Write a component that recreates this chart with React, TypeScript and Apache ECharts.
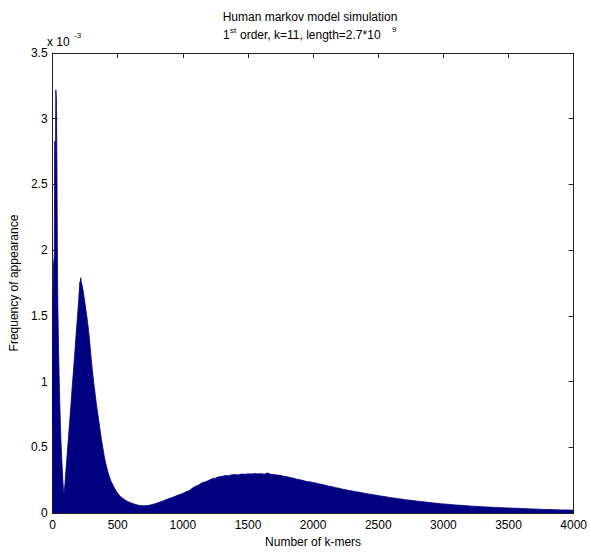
import React, { useEffect, useRef } from "react";
import * as echarts from "echarts";

// Number of k-mers (x) and frequency of appearance (in units of 1e-3)
const kmerCounts = [
  0, 3, 8, 13, 17, 21, 25, 29, 33, 37, 40, 45, 50, 55, 60, 65, 70, 75, 80, 85, 90, 95,
  100, 110, 120, 130, 140, 150, 160, 170, 180, 190, 200, 205, 210, 213, 216, 220, 225,
  235, 245, 255, 265, 275, 285, 295, 305, 315, 325, 335, 345, 355, 365, 375, 385, 395,
  405, 415, 425, 435, 445, 460, 475, 490, 505, 520, 540, 560, 580, 600, 625, 650, 675,
  700, 725, 750, 775, 800, 825, 850, 875, 900, 925, 950, 975, 1000, 1025, 1050, 1075,
  1100, 1125, 1150, 1175, 1200, 1225, 1250, 1275, 1300, 1325, 1350, 1375, 1400, 1425,
  1450, 1475, 1500, 1525, 1550, 1575, 1600, 1625, 1650, 1675, 1700, 1725, 1750, 1775,
  1800, 1825, 1850, 1875, 1900, 1925, 1950, 1975, 2000, 2025, 2050, 2075, 2100, 2125,
  2150, 2175, 2200, 2225, 2250, 2275, 2300, 2325, 2350, 2375, 2400, 2425, 2450, 2475,
  2500, 2525, 2550, 2575, 2600, 2625, 2650, 2675, 2700, 2725, 2750, 2775, 2800, 2825,
  2850, 2875, 2900, 2925, 2950, 2975, 3000, 3025, 3050, 3075, 3100, 3125, 3150, 3175,
  3200, 3225, 3250, 3275, 3300, 3325, 3350, 3375, 3400, 3425, 3450, 3475, 3500, 3525,
  3550, 3575, 3600, 3625, 3650, 3675, 3700, 3725, 3750, 3775, 3800, 3825, 3850, 3875,
  3900, 3925, 3950, 3975, 4000,
];

const frequency = [
  0.68, 1.63, 1.9, 1.95, 2.83, 2.5, 3.22, 3.15, 2.7, 1.95, 1.6, 1.3, 1.05, 0.85, 0.68, 0.53, 0.42, 0.32, 0.23, 0.15, 0.17, 0.22,
  0.29, 0.42, 0.55, 0.68, 0.81, 0.95, 1.08, 1.21, 1.35, 1.48, 1.61, 1.7, 1.76, 1.74, 1.79, 1.76, 1.74,
  1.69, 1.62, 1.55, 1.48, 1.4, 1.3, 1.19, 1.09, 1.0, 0.92, 0.84, 0.77, 0.7, 0.63, 0.56, 0.5, 0.44,
  0.39, 0.35, 0.31, 0.28, 0.25, 0.22, 0.19, 0.165, 0.145, 0.127, 0.112, 0.098, 0.087, 0.078, 0.069, 0.062, 0.057,
  0.055, 0.057, 0.061, 0.068, 0.075, 0.084, 0.093, 0.104, 0.113, 0.121, 0.132, 0.141, 0.15, 0.162, 0.172, 0.19,
  0.205, 0.215, 0.232, 0.238, 0.25, 0.262, 0.266, 0.276, 0.279, 0.286, 0.284, 0.291, 0.293, 0.29,
  0.297, 0.295, 0.299, 0.297, 0.301, 0.298, 0.3, 0.296, 0.305, 0.295, 0.293, 0.289, 0.287, 0.28,
  0.277, 0.27, 0.266, 0.258, 0.253, 0.248, 0.24, 0.238, 0.232, 0.228, 0.221, 0.217, 0.21, 0.204,
  0.2, 0.193, 0.189, 0.182, 0.178, 0.172, 0.168, 0.163, 0.16, 0.154, 0.15, 0.146, 0.142, 0.137,
  0.133, 0.129, 0.126, 0.121, 0.117, 0.114, 0.11, 0.107, 0.103, 0.1, 0.097, 0.094, 0.091, 0.088,
  0.086, 0.082, 0.08, 0.077, 0.075, 0.072, 0.07, 0.068, 0.066, 0.063, 0.061, 0.06, 0.058, 0.056,
  0.054, 0.053, 0.051, 0.05, 0.048, 0.047, 0.046, 0.044, 0.043, 0.042, 0.041, 0.04, 0.039, 0.038,
  0.037, 0.036, 0.035, 0.034, 0.033, 0.032, 0.031, 0.03, 0.029, 0.028, 0.027, 0.027, 0.026, 0.025,
  0.024, 0.024, 0.023, 0.023, 0.022,
];

const titleLine1 = "Human markov model simulation";
const titleLine2Parts = ["1", "st", "order, k=11, length=2.7*10", "9"];
const xAxisName = "Number of k-mers";
const yAxisName = "Frequency of appearance";
const yMultiplier = ["x 10", "-3"];

const FONT = "'Liberation Sans', Arial, Helvetica, sans-serif";
const FILL = "#000080";
const AXIS = "#222";

export default function App() {
  const ref = useRef<HTMLDivElement>(null);

  useEffect(() => {
    if (!ref.current) return;
    const chart = echarts.init(ref.current, null, { renderer: "svg" });
    const data = kmerCounts.map((x, i) => [x, frequency[i]]);

    const baseX = {
      type: "value" as const,
      min: 0,
      max: 4000,
      interval: 500,
      splitLine: { show: false },
      axisLine: { show: true, onZero: false, lineStyle: { color: AXIS, width: 1 } },
      axisTick: { show: true, inside: true, length: 5, lineStyle: { color: AXIS } },
    };
    const baseY = {
      type: "value" as const,
      min: 0,
      max: 3.5,
      interval: 0.5,
      splitLine: { show: false },
      axisLine: { show: true, onZero: false, lineStyle: { color: AXIS, width: 1 } },
      axisTick: { show: true, inside: true, length: 5, lineStyle: { color: AXIS } },
    };

    chart.setOption({
      animation: false,
      backgroundColor: "#fff",
      grid: { left: 48, right: 14, top: 53, bottom: 39, containLabel: false },
      xAxis: [
        {
          ...baseX,
          position: "bottom",
          axisLabel: {
            color: "#000",
            fontSize: 12,
            fontFamily: FONT,
            margin: 6,
            formatter: (v: number) => String(v),
          },
          name: xAxisName,
          nameLocation: "middle",
          nameGap: 22,
          nameTextStyle: { color: "#000", fontSize: 12, fontFamily: FONT },
        },
        { ...baseX, position: "top", axisLabel: { show: false } },
      ],
      yAxis: [
        {
          ...baseY,
          position: "left",
          axisLabel: {
            color: "#000",
            fontSize: 12,
            fontFamily: FONT,
            margin: 5,
            formatter: (v: number) => String(v),
          },
          name: yAxisName,
          nameLocation: "middle",
          nameGap: 21,
          nameTextStyle: { color: "#000", fontSize: 12, fontFamily: FONT },
        },
        { ...baseY, position: "right", axisLabel: { show: false } },
      ],
      series: [
        {
          type: "line",
          xAxisIndex: 0,
          yAxisIndex: 0,
          data,
          symbol: "none",
          smooth: false,
          lineStyle: { color: FILL, width: 0.8 },
          areaStyle: { color: FILL, opacity: 1 },
          itemStyle: { color: FILL },
        },
      ],
      graphic: [
        {
          type: "text",
          style: { x: 310, y: 17, text: titleLine1, fill: "#000", font: `12px ${FONT}`, textAlign: "center", textVerticalAlign: "middle" },
        },
        {
          type: "text",
          style: { x: 223, y: 35, text: titleLine2Parts[0], fill: "#000", font: `12px ${FONT}`, textAlign: "left", textVerticalAlign: "middle" },
        },
        {
          type: "text",
          style: { x: 230, y: 30, text: titleLine2Parts[1], fill: "#000", font: `8px ${FONT}`, textAlign: "left", textVerticalAlign: "middle" },
        },
        {
          type: "text",
          style: { x: 240, y: 35, text: titleLine2Parts[2], fill: "#000", font: `12px ${FONT}`, textAlign: "left", textVerticalAlign: "middle" },
        },
        {
          type: "text",
          style: { x: 392, y: 29, text: titleLine2Parts[3], fill: "#000", font: `8px ${FONT}`, textAlign: "left", textVerticalAlign: "middle" },
        },
        {
          type: "text",
          style: { x: 47, y: 42, text: yMultiplier[0], fill: "#000", font: `12px ${FONT}`, textAlign: "left", textVerticalAlign: "middle" },
        },
        {
          type: "text",
          style: { x: 74, y: 35, text: yMultiplier[1], fill: "#000", font: `8px ${FONT}`, textAlign: "left", textVerticalAlign: "middle" },
        },
      ],
    });

    return () => chart.dispose();
  }, []);

  return (
    <div
      ref={ref}
      style={{ position: "fixed", left: 0, top: 0, width: 590, height: 553, background: "#fff" }}
    />
  );
}
